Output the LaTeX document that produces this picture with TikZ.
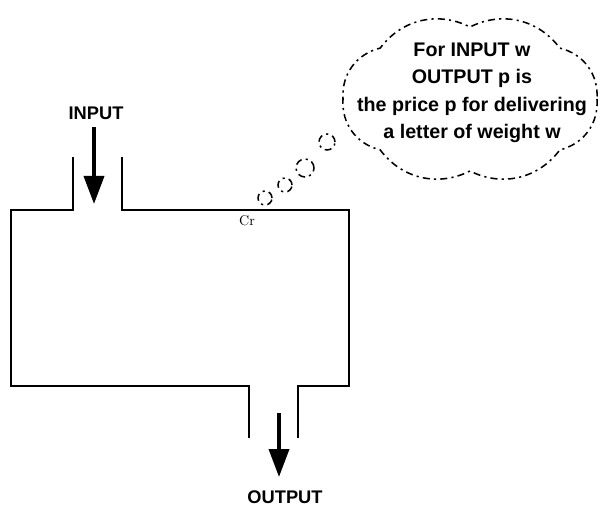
\documentclass[tikz,border=0pt]{standalone}
\usepackage{fontspec}
\setsansfont{Liberation Sans}
\usetikzlibrary{arrows.meta}

\begin{document}
\begin{tikzpicture}[x=0.025cm, y=-0.025cm,
    wall/.style={line width=1.4pt},
    flow/.style={line width=2.6pt, -{Triangle[width=0.5cm,length=0.7cm]}},
    word/.style={font=\sffamily\bfseries\fontsize{13}{15}\selectfont},
    thought/.style={draw, line width=1.1pt, dash pattern=on 5pt off 3pt on 1.5pt off 3pt}]
  \useasboundingbox (0,0) rectangle (604,506);
  % container with its two pipes
  \coordinate (i1) at (73,157);
  \coordinate (i2) at (73,210);
  \coordinate (i3) at (122,210);
  \coordinate (i4) at (122,157);
  \coordinate (c1) at (11,210);
  \coordinate (c2) at (349,210);
  \coordinate (c3) at (349,386);
  \coordinate (c4) at (11,386);
  \coordinate (o1) at (249,386);
  \coordinate (o2) at (249,438);
  \coordinate (o3) at (298,438);
  \coordinate (o4) at (298,386);
  \draw[wall] (i1) -- (i2) -- (c1) -- (c4) -- (o1) -- (o2);
  \draw[wall] (i4) -- (i3) -- (c2) -- (c3) -- (o4) -- (o3);
  \node (cr) at (247,221) {Cr};
  % flows
  \node[word] (in) at (96,113) {INPUT};
  \node[word] (out) at (285,497) {OUTPUT};
  \coordinate (a1) at (94,127);
  \coordinate (a2) at (94,204);
  \coordinate (a3) at (279,413);
  \coordinate (a4) at (279,477);
  \draw[flow] (a1) -- (a2);
  \draw[flow] (a3) -- (a4);
  % thought
  \node[align=center, font=\sffamily\bfseries\fontsize{14}{19.5}\selectfont] (note) at (472,93)
    {For INPUT w\\OUTPUT p is\\the price p for delivering\\a letter of weight w};
  \draw[thought] (470+127,99)
    \foreach \a in {45,90,...,360} {to[bend left=40] ({470+127*cos(\a)},{99+72*sin(\a)})};
  \node[thought, circle, minimum size=0.35cm, inner sep=0pt] (b1) at (265,198) {};
  \node[thought, circle, minimum size=0.35cm, inner sep=0pt] (b2) at (285,185) {};
  \node[thought, circle, minimum size=0.45cm, inner sep=0pt] (b3) at (305,168) {};
  \node[thought, circle, minimum size=0.4cm, inner sep=0pt] (b4) at (327,142) {};
\end{tikzpicture}
\end{document}
